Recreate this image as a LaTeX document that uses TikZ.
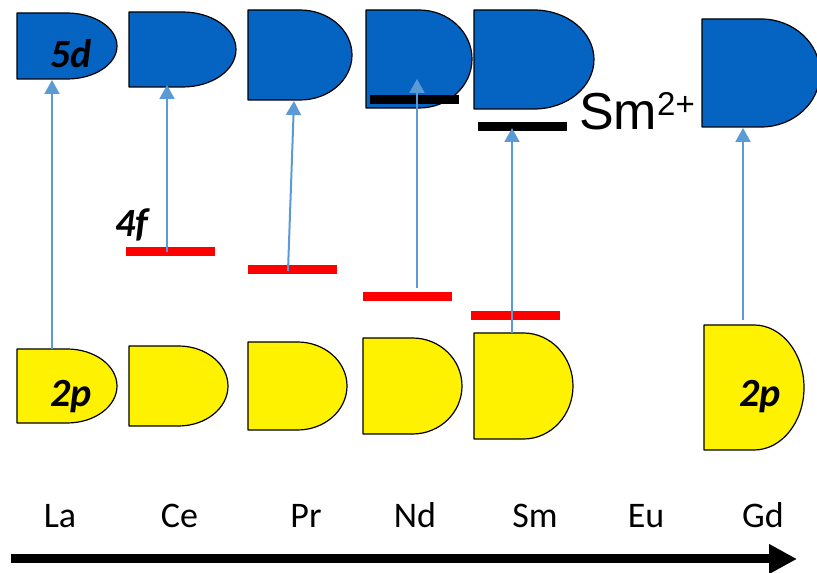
\documentclass[tikz,border=0pt]{standalone}
\usepackage{fontspec}
\setmainfont{Carlito}
\newfontfamily\arialfont{Liberation Sans}
\usetikzlibrary{arrows.meta}
\definecolor{dblue}{HTML}{0563C1}
\definecolor{lblue}{HTML}{5B9BD5}
\tikzset{
  dshape/.style={draw=black, line width=1.2pt, line join=round},
  levelbar/.style={draw=none, rectangle, inner sep=0pt, minimum width=89pt, minimum height=9pt},
  excite/.style={lblue, line width=2pt, -{Triangle[length=14pt,width=15pt]}},
  orb/.style={font=\fontsize{40}{40}\selectfont\bfseries\itshape, inner sep=0pt, anchor=base},
  elem/.style={font=\fontsize{36}{36}\selectfont, inner sep=0pt, anchor=base},
  axis/.style={line width=9pt, -{Triangle[length=28pt,width=28pt]}},
}
% half-rectangle / half-ellipse band: name, left, top, right, bottom, fill
\newcommand\dlevel[6]{%
  \draw[dshape, fill=#6] (#2,#3) -- ({(#2+#4)/2},#3)
    arc[start angle=90, end angle=-90, x radius={(#4-#2)/2}, y radius={(#3-#5)/2}]
    -- (#2,#5) -- cycle;
  \coordinate (#1) at ({(#2+#4)/2},{(#3+#5)/2});
}
\begin{document}
\begin{tikzpicture}[x=1pt,y=1pt]
\useasboundingbox (0,0) rectangle (817,573);

% 5d bands
\dlevel{d-La}{17}{560}{117}{494}{dblue}
\dlevel{d-Ce}{129}{561}{236}{486}{dblue}
\dlevel{d-Pr}{248}{563}{352}{473}{dblue}
\dlevel{d-Nd}{366}{563}{472}{465}{dblue}
\dlevel{d-Sm}{474}{563}{594}{464}{dblue}
\dlevel{d-Gd}{702}{554}{820}{446}{dblue}

% 2p bands
\dlevel{p-La}{17}{224}{117}{150}{yellow}
\dlevel{p-Ce}{129}{227}{228}{147}{yellow}
\dlevel{p-Pr}{248}{231}{347}{143}{yellow}
\dlevel{p-Nd}{363}{235}{462}{139}{yellow}
\dlevel{p-Sm}{474}{240}{573}{134}{yellow}
\dlevel{p-Gd}{704}{248}{804}{123}{yellow}

% 4f levels
\node[levelbar, fill=red] (f-Ce) at (170.5,321) {};
\node[levelbar, fill=red] (f-Pr) at (292.5,303) {};
\node[levelbar, fill=red] (f-Nd) at (407.5,276) {};
\node[levelbar, fill=red] (f-Sm) at (515.5,257.5) {};

% Sm2+ levels
\node[levelbar, fill=black] (s-Nd) at (414.5,473) {};
\node[levelbar, fill=black] (s-Sm) at (522.5,446.5) {};

% transition end points
\coordinate (La-from) at (52,224);  \coordinate (La-to) at (52,493);
\coordinate (Ce-from) at (167,321); \coordinate (Ce-to) at (167,488);
\coordinate (Pr-from) at (288,302); \coordinate (Pr-to) at (294,472);
\coordinate (Nd-from) at (417,285); \coordinate (Nd-to) at (417,494);
\coordinate (Sm-from) at (512,240); \coordinate (Sm-to) at (512,445);
\coordinate (Gd-from) at (743,253); \coordinate (Gd-to) at (743,445);

\draw[excite] (La-from) -- (La-to);
\draw[excite] (Ce-from) -- (Ce-to);
\draw[excite] (Pr-from) -- (Pr-to);
\draw[excite] (Nd-from) -- (Nd-to);
\draw[excite] (Sm-from) -- (Sm-to);
\draw[excite] (Gd-from) -- (Gd-to);

% orbital labels
\node[orb] (t5d) at (71,505) {5d};
\node[orb] (t2p-La) at (71,166) {2p};
\node[orb] (t2p-Gd) at (760,166) {2p};
\node[orb, anchor=base west] (t4f) at (115,336) {4f};
\node[anchor=base west, inner sep=0pt, font=\arialfont\fontsize{52}{52}\selectfont] (sm2) at (579,443)
  {Sm\raisebox{14pt}{\fontsize{33}{33}\selectfont 2+}};

% element row
\node[elem] (La) at (60,45) {La};
\node[elem] (Ce) at (179.5,45) {Ce};
\node[elem] (Pr) at (306,45) {Pr};
\node[elem] (Nd) at (415,45) {Nd};
\node[elem] (Sm) at (535,45) {Sm};
\node[elem] (Eu) at (646,45) {Eu};
\node[elem] (Gd) at (763,45) {Gd};

% direction of increasing atomic number
\coordinate (ax-start) at (11,14);
\coordinate (ax-end) at (797,14);
\draw[axis] (ax-start) -- (ax-end);
\end{tikzpicture}
\end{document}
